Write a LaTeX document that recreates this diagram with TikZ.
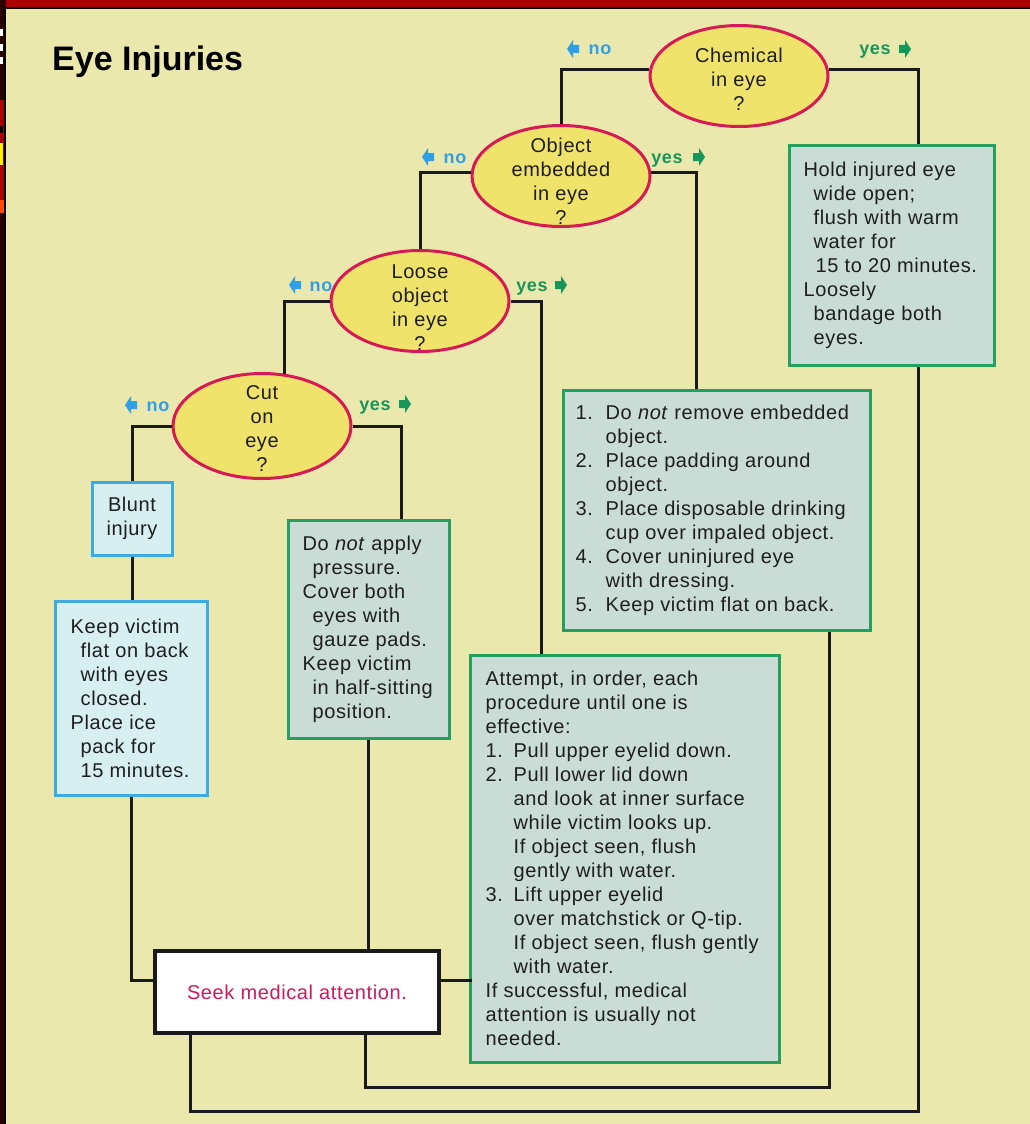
\documentclass[tikz,border=0pt]{standalone}
\usepackage{fontspec}
\setmainfont{Liberation Sans}[LetterSpace=3]
\usetikzlibrary{shapes.geometric,calc}
\definecolor{bg}{HTML}{EBE8AE}
\definecolor{borderred}{HTML}{A80000}
\definecolor{stripdark}{HTML}{2A0000}
\definecolor{ellfill}{HTML}{EFE36C}
\definecolor{ellred}{HTML}{D71A55}
\definecolor{gfill}{HTML}{C9DCD5}
\definecolor{gborder}{HTML}{23A060}
\definecolor{bfill}{HTML}{D8EFF2}
\definecolor{bborder}{HTML}{3DAAE4}
\definecolor{txt}{HTML}{1E1E1E}
\definecolor{lineblack}{HTML}{1A1A1A}
\definecolor{noblue}{HTML}{30A0E6}
\definecolor{yesgreen}{HTML}{18955A}
\definecolor{seekred}{HTML}{D0185A}
\newcommand\boxfont{\fontsize{20}{24}\selectfont}
\newcommand\labfont{\fontsize{18}{20}\selectfont\bfseries}
\tikzset{
  conn/.style={line width=3pt, draw=lineblack},
  decision/.style={ellipse, draw=ellred, line width=3pt, fill=ellfill,
    minimum width=178pt, minimum height=101pt, inner sep=0pt},
  dectxt/.style={inner sep=0pt, align=center, font=\boxfont, text=txt},
  greenbox/.style={draw=gborder, fill=gfill, line width=3pt, inner sep=0pt},
  bluebox/.style={draw=bborder, fill=bfill, line width=3pt, inner sep=0pt},
  boxtxt/.style={inner sep=0pt, align=left, font=\boxfont, text=txt, anchor=west},
  nolab/.style={font=\labfont, text=noblue, anchor=base, inner sep=0pt},
  yeslab/.style={font=\labfont, text=yesgreen, anchor=base, inner sep=0pt},
  larrow/.pic={\fill[noblue] (-6,0) -- (0,-9) -- (0,-4) -- (6,-4) -- (6,4) -- (0,4) -- (0,9) -- cycle;},
  rarrow/.pic={\fill[yesgreen] (6,0) -- (0,-9) -- (0,-4) -- (-6,-4) -- (-6,4) -- (0,4) -- (0,9) -- cycle;},
}
\begin{document}
\begin{tikzpicture}[x=1pt,y=-1pt]
\useasboundingbox (0,0) rectangle (1030,1124);
% frame and background
\fill[borderred] (0,0) rectangle (1030,9);
\fill[stripdark] (0,0) rectangle (6,1124);
\fill[white] (0,29) rectangle (3,36);
\fill[white] (0,44) rectangle (3,51);
\fill[white] (0,57) rectangle (3,64);
\fill[borderred] (0,100) rectangle (4,213);
\fill[yellow] (0,143) rectangle (3,165);
\fill[black] (0,126) rectangle (3,133);
\fill[orange!60!red] (0,200) rectangle (4,213);
\fill[bg] (6,9) rectangle (1030,1124);
\draw[black, line width=2pt] (5,1124) -- (5,8) -- (1030,8);

% title
\node[anchor=west, inner sep=0pt, font=\fontsize{34}{36}\selectfont\bfseries\addfontfeatures{LetterSpace=0}, text=black] (title) at (52,62) {Eye Injuries};

% decisions
\node[decision] (chem) at (739,76) {};
\node[decision] (obj) at (561,176) {};
\node[decision] (loose) at (420,301) {};
\node[decision, minimum height=105pt] (cut) at (262,426) {};
\node[dectxt] (chemt) at ($(chem.center)+(0,3)$) {Chemical\\in eye\\?};
\node[dectxt] (objt) at ($(obj.center)+(0,5)$) {Object\\embedded\\in eye\\?};
\node[dectxt] (looset) at ($(loose.center)+(0,7)$) {Loose\\object\\in eye\\?};
\node[dectxt] (cutt) at ($(cut.center)+(0,3)$) {Cut\\on\\eye\\?};

% boxes
\node[bluebox, minimum width=80pt, minimum height=73pt, align=center, font=\boxfont, text=txt] (blunt) at (132,518.5) {Blunt\\injury};
\node[bluebox, minimum width=152pt, minimum height=194pt] (keep) at (131,698) {};
\node[greenbox, minimum width=161pt, minimum height=218pt] (dna) at (368.5,629) {};
\node[greenbox, minimum width=205pt, minimum height=220pt] (hold) at (891.5,255) {};
\node[greenbox, minimum width=307pt, minimum height=240pt] (remove) at (716.5,510) {};
\node[greenbox, minimum width=309pt, minimum height=407pt] (attempt) at (624.5,858.5) {};
\node[draw=lineblack, fill=white, line width=3.5pt, minimum width=284pt, minimum height=82pt,
      font=\boxfont, text=seekred] (seek) at (297,992) {Seek medical attention.};

% connectors
\draw[conn] (chem.176) -| (obj.north);
\draw[conn] (chem.4) -| ($(hold.north east)+(-77,0)$);
\draw[conn] (obj.178) -| (loose.north);
\draw[conn] (obj.2) -| ($(remove.north west)+(135,0)$);
\draw[conn] (loose.west) -| (cut.67);
\draw[conn] (loose.east) -| ($(attempt.north west)+(73,0)$);
\draw[conn] (cut.west) -| (blunt.north);
\draw[conn] (cut.east) -| ($(dna.north west)+(115,0)$);
\draw[conn] (blunt.south) -- (blunt.south |- keep.north);
\draw[conn] (keep.south) |- ($(seek.west)+(0,-12)$);
\draw[conn] (dna.south) -- (dna.south |- seek.north);
\draw[conn] ($(seek.east)+(0,-12)$) -- ($(seek.east)+(31,-12)$);
\draw[conn] ($(seek.south west)+(37,0)$) -- ++(0,77) -| ($(hold.south east)+(-77,0)$);
\draw[conn] ($(seek.south west)+(212,0)$) -- ++(0,53) -| ($(remove.south east)+(-42,0)$);

% box texts
\node[boxtxt] (keept) at ($(keep.west)+(17,0)$) {Keep victim\\\hspace*{10pt}flat on back\\\hspace*{10pt}with eyes\\\hspace*{10pt}closed.\\Place ice\\\hspace*{10pt}pack for\\\hspace*{10pt}15 minutes.};
\node[boxtxt] (dnat) at ($(dna.west)+(16,0)$) {Do \textit{not} apply\\\hspace*{10pt}pressure.\\Cover both\\\hspace*{10pt}eyes with\\\hspace*{10pt}gauze pads.\\Keep victim\\\hspace*{10pt}in half-sitting\\\hspace*{10pt}position.};
\node[boxtxt] (holdt) at ($(hold.west)+(16,0)$) {Hold injured eye\\\hspace*{10pt}wide open;\\\hspace*{10pt}flush with warm\\\hspace*{10pt}water for\\\hspace*{12pt}15 to 20 minutes.\\Loosely\\\hspace*{10pt}bandage both\\\hspace*{10pt}eyes.};
\node[boxtxt] (removet) at ($(remove.west)+(14,0)$) {\makebox[30pt][l]{1.}Do \textit{not} remove embedded\\\hspace*{30pt}object.\\\makebox[30pt][l]{2.}Place padding around\\\hspace*{30pt}object.\\\makebox[30pt][l]{3.}Place disposable drinking\\\hspace*{30pt}cup over impaled object.\\\makebox[30pt][l]{4.}Cover uninjured eye\\\hspace*{30pt}with dressing.\\\makebox[30pt][l]{5.}Keep victim flat on back.};
\node[boxtxt] (attemptt) at ($(attempt.west)+(17,0)$) {Attempt, in order, each\\procedure until one is\\effective:\\\makebox[28pt][l]{1.}Pull upper eyelid down.\\\makebox[28pt][l]{2.}Pull lower lid down\\\hspace*{28pt}and look at inner surface\\\hspace*{28pt}while victim looks up.\\\hspace*{28pt}If object seen, flush\\\hspace*{28pt}gently with water.\\\makebox[28pt][l]{3.}Lift upper eyelid\\\hspace*{28pt}over matchstick or Q-tip.\\\hspace*{28pt}If object seen, flush gently\\\hspace*{28pt}with water.\\If successful, medical\\attention is usually not\\needed.};

% yes / no labels
\pic at (573,49) {larrow};
\node[nolab] (chemno) at (600,55) {no};
\node[yeslab] (chemyes) at (875,55) {yes};
\pic at (905,49) {rarrow};
\pic at (428,157) {larrow};
\node[nolab] (objno) at (455,163) {no};
\node[yeslab] (objyes) at (667,163) {yes};
\pic at (699,157) {rarrow};
\pic at (295,285) {larrow};
\node[nolab] (looseno) at (321,291) {no};
\node[yeslab] (looseyes) at (532,291) {yes};
\pic at (561,285) {rarrow};
\pic at (131,405) {larrow};
\node[nolab] (cutno) at (158,411) {no};
\node[yeslab] (cutyes) at (375,410) {yes};
\pic at (405,404) {rarrow};
\end{tikzpicture}
\end{document}
